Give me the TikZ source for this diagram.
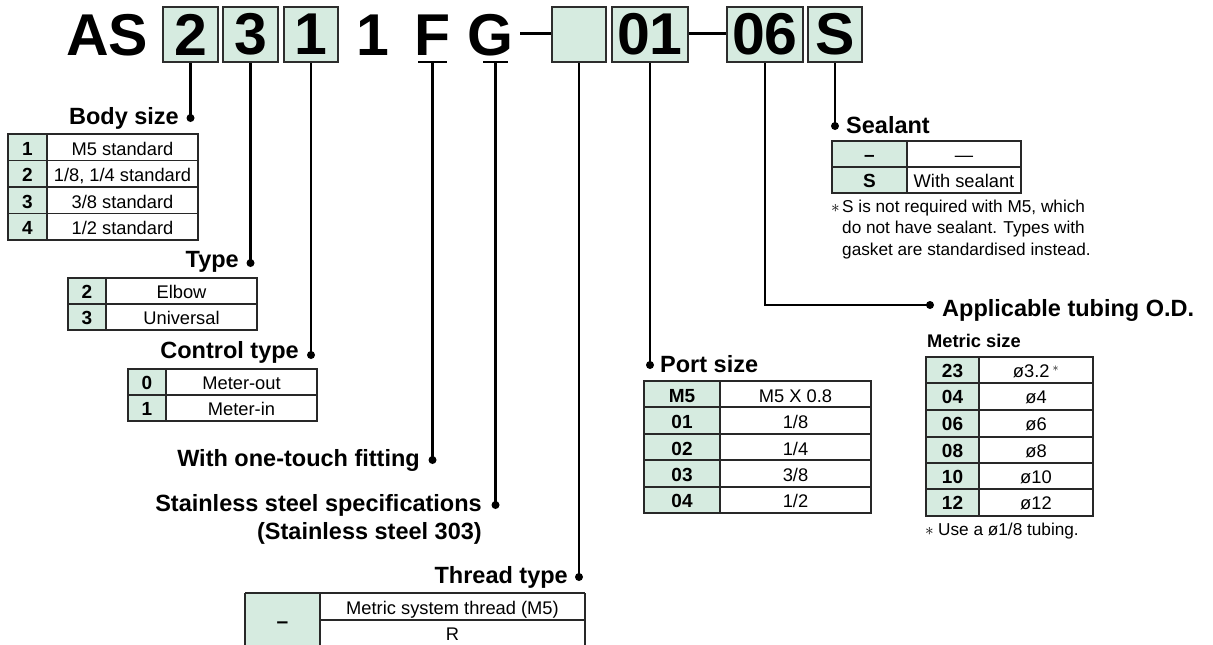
\documentclass[tikz,border=0pt]{standalone}
\usepackage{fontspec}
\setmainfont{Liberation Sans}
\definecolor{keygreen}{RGB}{214,235,224}
\definecolor{boxline}{RGB}{45,45,45}
\definecolor{tabline}{RGB}{40,40,40}
\newcommand\dgCode{\fontsize{59}{59}\selectfont\bfseries}
\newcommand\dgHead{\fontsize{23.5}{23.5}\selectfont\bfseries}
\newcommand\dgKey{\fontsize{19}{19}\selectfont\bfseries}
\newcommand\dgVal{\fontsize{18.3}{18.3}\selectfont}
\newcommand\dgNote{\fontsize{17.2}{17.2}\selectfont}
\tikzset{
  codebox/.style={draw=boxline, line width=1.6pt, fill=keygreen, minimum width=#1, minimum height=55pt, inner sep=0pt, font=\dgCode},
  codetxt/.style={inner sep=0pt, anchor=base, font=\dgCode},
  conn/.style={line width=2.3pt},
  dotn/.style={circle, fill=black, inner sep=0pt, minimum size=8pt},
  head/.style={inner sep=0pt, font=\dgHead},
  keytxt/.style={inner sep=0pt, anchor=base, font=\dgKey},
  valtxt/.style={inner sep=0pt, anchor=base, font=\dgVal},
  notetxt/.style={inner sep=0pt, anchor=base west, font=\dgNote},
  tgrid/.style={draw=tabline, line width=1.1pt},
  ttop/.style={draw=tabline, line width=2.2pt},
}
\begin{document}
\begin{tikzpicture}[x=1pt,y=-1pt]
\useasboundingbox (0,0) rectangle (1213,645);
\clip (0,0) rectangle (1213,645);

% ---------- code row ----------
\node[codetxt, anchor=base west] (cAS) at (66,55) {AS};
\node[codebox=55pt] (b2) at (190.5,34.5) {2};
\node[codebox=55pt] (b3) at (250.5,34.5) {3};
\node[codebox=54pt] (b1) at (311,34.5) {1};
\node[codetxt] (c1) at (372.5,55) {1};
\node[codetxt] (cF) at (432.5,55) {F};
\node[codetxt] (cG) at (490.5,55) {G};
\node[codebox=54pt] (bE) at (579,34.5) {};
\node[codebox=76pt] (b01) at (650,34.5) {01};
\node[codebox=76pt] (b06) at (765,34.5) {06};
\node[codebox=54pt] (bS) at (835,34.5) {S};

\coordinate (fL) at (418,62); \coordinate (fR) at (447,62); \coordinate (fM) at (432.5,62);
\coordinate (gL) at (483,62); \coordinate (gR) at (508,62); \coordinate (gM) at (495.5,62);
\draw[conn] (fL) -- (fR);
\draw[conn] (gL) -- (gR);
\coordinate (dashA) at (520,33.5);
\draw[conn] (dashA) -- (bE.west |- dashA);
\draw[line width=3pt] (b01.east |- dashA) -- (b06.west |- dashA);

% ---------- Body size ----------
\node[dotn] (dBody) at (190.5,118) {};
\node[head, anchor=base east] (hBody) at (179,124) {Body size};
\draw[conn] (b2.south) -- (dBody.center);
\fill[keygreen] (8,134) rectangle (47,240);
\draw[tgrid] (8,134) rectangle (198,240) (47,134) -- (47,240)
  (8,160.5) -- (198,160.5) (8,187) -- (198,187) (8,213.5) -- (198,213.5);
\draw[ttop] (8,134) -- (198,134);
\node[keytxt] (bsk1) at (27.5,155) {1};   \node[valtxt] (bsv1) at (122.5,155) {M5 standard};
\node[keytxt] (bsk2) at (27.5,181.5) {2}; \node[valtxt] (bsv2) at (122.5,181.5) {1/8, 1/4 standard};
\node[keytxt] (bsk3) at (27.5,208) {3};   \node[valtxt] (bsv3) at (122.5,208) {3/8 standard};
\node[keytxt] (bsk4) at (27.5,234.5) {4}; \node[valtxt] (bsv4) at (122.5,234.5) {1/2 standard};

% ---------- Type ----------
\node[dotn] (dType) at (250.5,263) {};
\node[head, anchor=base east] (hType) at (239,267) {Type};
\draw[conn] (b3.south) -- (dType.center);
\fill[keygreen] (68,278) rectangle (106,330);
\draw[tgrid] (68,278) rectangle (257,330) (106,278) -- (106,330) (68,304) -- (257,304);
\draw[ttop] (68,278) -- (257,278);
\node[keytxt] (tyk1) at (87,298.5) {2}; \node[valtxt] (tyv1) at (181.5,298.5) {Elbow};
\node[keytxt] (tyk2) at (87,324.5) {3}; \node[valtxt] (tyv2) at (181.5,324.5) {Universal};

% ---------- Control type ----------
\node[dotn] (dCtrl) at (311,355) {};
\node[head, anchor=base east] (hCtrl) at (299,358.5) {Control type};
\draw[conn] (b1.south) -- (dCtrl.center);
\fill[keygreen] (128,369) rectangle (166,421);
\draw[tgrid] (128,369) rectangle (317,421) (166,369) -- (166,421) (128,395) -- (317,395);
\draw[ttop] (128,369) -- (317,369);
\node[keytxt] (ctk1) at (147,389.5) {0}; \node[valtxt] (ctv1) at (241.5,389.5) {Meter-out};
\node[keytxt] (ctk2) at (147,415.5) {1}; \node[valtxt] (ctv2) at (241.5,415.5) {Meter-in};

% ---------- With one-touch fitting ----------
\node[dotn] (dFit) at (432.5,460) {};
\node[head, anchor=base east] (hFit) at (420,466) {With one-touch fitting};
\draw[conn] (fM) -- (dFit.center);

% ---------- Stainless ----------
\node[dotn] (dSus) at (495.5,505) {};
\node[head, anchor=base east] (hSus1) at (482,511.5) {Stainless steel specifications};
\node[head, anchor=base east] (hSus2) at (482,539.5) {(Stainless steel 303)};
\draw[conn] (gM) -- (dSus.center);

% ---------- Thread type ----------
\node[dotn] (dThr) at (579,577) {};
\node[head, anchor=base east] (hThr) at (568,583.5) {Thread type};
\draw[conn] (bE.south) -- (dThr.center);
\fill[keygreen] (245,593) rectangle (320,660);
\draw[tgrid] (245,593) -- (245,660) (320,593) -- (320,660) (585,593) -- (585,660)
  (320,620) -- (585,620);
\draw[ttop] (245,593) -- (585,593);
\node[keytxt] (thk1) at (282.5,628) {\fontsize{21}{21}\selectfont –};
\node[valtxt] (thv1) at (452.5,614.5) {Metric system thread (M5)};
\node[valtxt] (thv2) at (452.5,640.5) {R};

% ---------- Port size ----------
\node[dotn] (dPort) at (650,365) {};
\node[head, anchor=base west] (hPort) at (660,372) {Port size};
\draw[conn] (b01.south) -- (dPort.center);
\fill[keygreen] (644,381) rectangle (720,513);
\draw[tgrid] (644,381) rectangle (871,513) (720,381) -- (720,513)
  (644,407) -- (871,407) (644,434) -- (871,434) (644,460) -- (871,460) (644,487) -- (871,487);
\draw[ttop] (644,381) -- (871,381);
\node[keytxt] (pk1) at (682,402) {M5}; \node[valtxt] (pv1) at (795.5,402) {M5 X 0.8};
\node[keytxt] (pk2) at (682,428) {01}; \node[valtxt] (pv2) at (795.5,428) {1/8};
\node[keytxt] (pk3) at (682,455) {02}; \node[valtxt] (pv3) at (795.5,455) {1/4};
\node[keytxt] (pk4) at (682,481) {03}; \node[valtxt] (pv4) at (795.5,481) {3/8};
\node[keytxt] (pk5) at (682,507.5) {04}; \node[valtxt] (pv5) at (795.5,507.5) {1/2};

% ---------- Sealant ----------
\node[dotn] (dSeal) at (835,126) {};
\node[head, anchor=base west] (hSeal) at (846,133.5) {Sealant};
\draw[conn] (bS.south) -- (dSeal.center);
\fill[keygreen] (832,141) rectangle (907,193);
\draw[tgrid] (832,141) rectangle (1021,193) (907,141) -- (907,193) (832,167) -- (1021,167);
\draw[ttop] (832,141) -- (1021,141);
\node[keytxt] (sk1) at (869.5,161) {–}; \node[valtxt] (sv1) at (964,161) {—};
\node[keytxt] (sk2) at (869.5,187.5) {S}; \node[valtxt] (sv2) at (964,187.5) {With sealant};
\node[notetxt] (sn0) at (831,212.5) {$\ast$};
\node[notetxt] (sn1) at (842,212.5) {S is not required with M5, which};
\node[notetxt] (sn2) at (842,233.5) {do not have sealant. Types with};
\node[notetxt] (sn3) at (842,255) {gasket are standardised instead.};

% ---------- Applicable tubing O.D. ----------
\node[dotn] (dTube) at (930,305) {};
\node[head, anchor=base west] (hTube) at (942,316) {Applicable tubing O.D.};
\draw[conn] (b06.south) |- (dTube.center);
\node[inner sep=0pt, anchor=base west, font=\fontsize{18.3}{18.3}\selectfont\bfseries] (hMetric) at (927,347) {Metric size};
\fill[keygreen] (926,357) rectangle (979,516);
\draw[tgrid] (926,357) rectangle (1093,516) (979,357) -- (979,516)
  (926,383) -- (1093,383) (926,410) -- (1093,410) (926,437) -- (1093,437)
  (926,463) -- (1093,463) (926,489) -- (1093,489);
\draw[ttop] (926,357) -- (1093,357);
\node[keytxt] (tk1) at (952.5,377.5) {23}; \node[valtxt] (tv1) at (1036,377.5) {ø3.2\,$^{\ast}$};
\node[keytxt] (tk2) at (952.5,403.5) {04}; \node[valtxt] (tv2) at (1036,403.5) {ø4};
\node[keytxt] (tk3) at (952.5,430.5) {06}; \node[valtxt] (tv3) at (1036,430.5) {ø6};
\node[keytxt] (tk4) at (952.5,457.5) {08}; \node[valtxt] (tv4) at (1036,457.5) {ø8};
\node[keytxt] (tk5) at (952.5,483.5) {10}; \node[valtxt] (tv5) at (1036,483.5) {ø10};
\node[keytxt] (tk6) at (952.5,509.5) {12}; \node[valtxt] (tv6) at (1036,509.5) {ø12};
\node[notetxt] (tn0) at (925,535) {$\ast$};
\node[notetxt] (tn1) at (938,535) {Use a ø1/8 tubing.};
\end{tikzpicture}
\end{document}
